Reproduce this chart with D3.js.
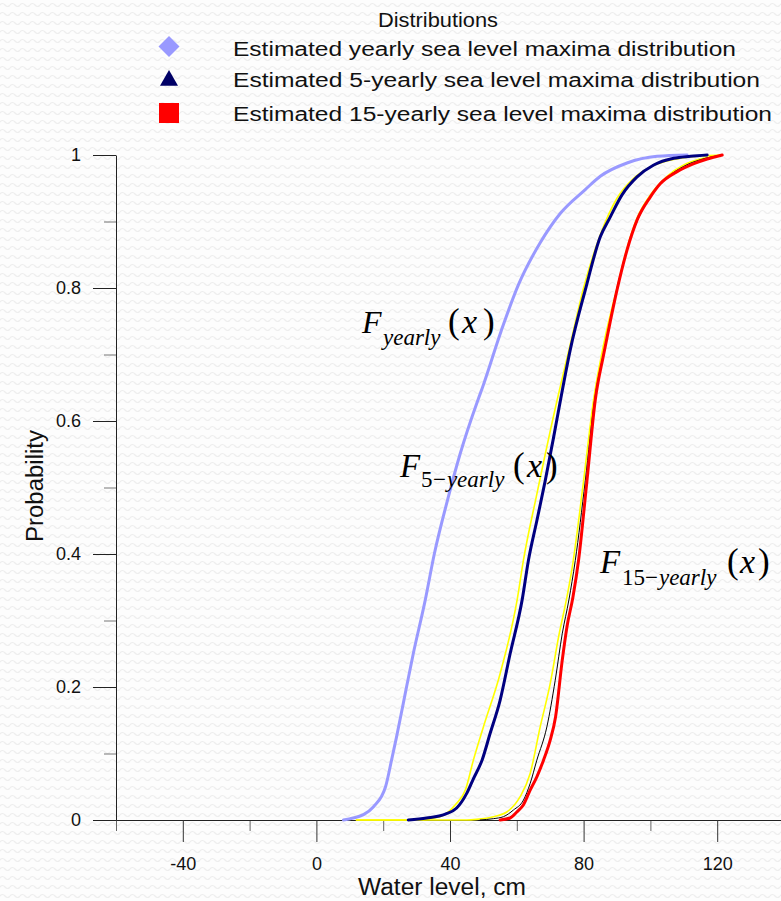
<!DOCTYPE html>
<html>
<head>
<meta charset="utf-8">
<script src="https://cdn.jsdelivr.net/npm/d3@7"></script>
<style>
  html, body { margin: 0; padding: 0; background: #fff; }
  svg { display: block; }
</style>
</head>
<body>
<svg id="chart" width="781" height="901"></svg>
<script>
// ---- Axis ticks and labels ----
const xMajorTicks = [-40, 0, 40, 80, 120];
const xMajorLabels = ["-40", "0", "40", "80", "120"];
const xMinorTicks = [-60, -20, 20, 60, 100, 140];
const yMajorTicks = [0, 0.2, 0.4, 0.6, 0.8, 1];
const yMajorLabels = ["0", "0.2", "0.4", "0.6", "0.8", "1"];
const yMinorTicks = [0.1, 0.3, 0.5, 0.7, 0.9];

// ---- Legend ----
const legendTitle = "Distributions";
const legendNames = [
  "Estimated yearly sea level maxima distribution",
  "Estimated 5-yearly sea level maxima distribution",
  "Estimated 15-yearly sea level maxima distribution"
];

// ---- Empirical distribution of yearly maxima (water level cm, probability) ----
const yearlyLevels = [8.1, 11, 14.1, 17.1, 20.7, 22.5, 24, 26, 29, 32.6, 35.3, 39.2, 43, 48.1, 49.7, 55.3, 60.5, 67, 73, 80.5, 85, 93, 102, 111];
const yearlyProb   = [0, 0.003, 0.008, 0.02, 0.05, 0.09, 0.125, 0.175, 0.25, 0.331, 0.40, 0.48, 0.55, 0.628, 0.65, 0.735, 0.805, 0.868, 0.912, 0.948, 0.968, 0.988, 0.998, 1];

// ---- Empirical distribution of 5-yearly maxima ----
const fiveLevels = [27.5, 33, 38.6, 42, 45, 47, 49.6, 52, 55, 58, 61.6, 63.5, 66, 68.5, 71, 73.1, 76, 80.5, 85, 88, 91.5, 96, 101, 107, 112, 117];
const fiveProb   = [0, 0.003, 0.009, 0.018, 0.04, 0.062, 0.09, 0.13, 0.18, 0.25, 0.331, 0.391, 0.45, 0.51, 0.575, 0.632, 0.707, 0.797, 0.877, 0.907, 0.94, 0.967, 0.985, 0.995, 0.998, 1];

// ---- Fitted 5-yearly distribution ----
const fiveFitLevels = [12, 30, 37, 41.6, 44.6, 47, 50, 55, 60.1, 62, 66, 72.1, 76, 80, 85, 90, 95, 100, 110, 121.5];
const fiveFitProb   = [0, 0, 0.005, 0.023, 0.045, 0.09, 0.14, 0.22, 0.331, 0.391, 0.49, 0.632, 0.715, 0.80, 0.88, 0.935, 0.965, 0.982, 0.996, 1];

// ---- Empirical distribution of 15-yearly maxima ----
const fifteenLevels = [55, 58, 60, 62, 64, 66, 68, 70, 71.6, 73.6, 75, 76.8, 78.5, 81, 83.5, 86, 88, 90, 93, 96, 100, 103, 108, 113, 117, 121.5];
const fifteenProb   = [0, 0.003, 0.012, 0.023, 0.045, 0.065, 0.09, 0.12, 0.155, 0.24, 0.29, 0.335, 0.391, 0.51, 0.632, 0.70, 0.75, 0.797, 0.857, 0.902, 0.937, 0.957, 0.975, 0.987, 0.994, 1];

// ---- Fitted 15-yearly distributions ----
const fifteenFitLevels = [12, 45, 48, 53, 57, 61, 64, 67, 70, 72.5, 75, 76.6, 80, 83, 86, 90, 93, 96, 100, 105, 110, 115, 121.5];
const fifteenFitProb   = [0, 0, 0.001, 0.005, 0.012, 0.035, 0.07, 0.14, 0.205, 0.275, 0.335, 0.38, 0.51, 0.632, 0.715, 0.80, 0.86, 0.905, 0.94, 0.968, 0.985, 0.994, 1];
const fifteenAltLevels = [49, 53, 56, 59, 62, 64, 66, 69, 71.5, 73.6, 75.6, 77.5, 80.5, 83.3, 86.3, 90, 93, 96, 100, 105, 110, 115, 121.5];
const fifteenAltProb   = [0, 0.002, 0.005, 0.015, 0.03, 0.055, 0.09, 0.14, 0.21, 0.28, 0.331, 0.39, 0.51, 0.632, 0.71, 0.80, 0.857, 0.9, 0.937, 0.966, 0.983, 0.993, 1];

// ---- Drawing ----
const W = 781, H = 901;
const SANS = "'Liberation Sans', Arial, Helvetica, sans-serif";
const SERIF = "'Liberation Serif', 'Times New Roman', Times, serif";

const svg = d3.select("#chart");

// faint wavy paper texture behind everything
const defs = svg.append("defs");
const pat = defs.append("pattern")
  .attr("id", "paper")
  .attr("patternUnits", "userSpaceOnUse")
  .attr("width", 10).attr("height", 9);
pat.append("rect").attr("width", 10).attr("height", 9).attr("fill", "#fdfdfd");
pat.append("path")
  .attr("d", "M0,5 Q2.5,2 5,5 T10,5")
  .attr("fill", "none").attr("stroke", "#eeeeee").attr("stroke-width", 1.2);
svg.append("rect").attr("width", W).attr("height", H).attr("fill", "url(#paper)");

const x = d3.scaleLinear().domain([-60, 140]).range([116, 784]);
const y = d3.scaleLinear().domain([0, 1]).range([820, 155]);

// ---- axes ----
function styleAxis(g, color, fontSize) {
  g.selectAll("path.domain").attr("stroke", "#222").attr("stroke-width", 1);
  g.selectAll(".tick line").attr("stroke", color).attr("stroke-width", 1);
  g.selectAll(".tick text")
    .attr("fill", "#111")
    .style("font-family", SANS)
    .style("font-size", fontSize + "px");
}

const xMinor = svg.append("g").attr("transform", `translate(0,${y(0)})`)
  .call(d3.axisBottom(x).tickValues(xMinorTicks).tickSize(11).tickFormat(() => "").tickSizeOuter(0));
xMinor.select("path.domain").remove();
styleAxis(xMinor, "#666", 18);

const yMinor = svg.append("g").attr("transform", `translate(${x(-60)},0)`)
  .call(d3.axisLeft(y).tickValues(yMinorTicks).tickSize(12).tickFormat(() => "").tickSizeOuter(0));
yMinor.select("path.domain").remove();
styleAxis(yMinor, "#777", 18);

const xMajor = svg.append("g").attr("transform", `translate(0,${y(0)})`)
  .call(d3.axisBottom(x).tickValues(xMajorTicks)
    .tickFormat((d, i) => xMajorLabels[i])
    .tickSize(22).tickPadding(15).tickSizeOuter(0));
styleAxis(xMajor, "#333", 18);

const yMajor = svg.append("g").attr("transform", `translate(${x(-60)},0)`)
  .call(d3.axisLeft(y).tickValues(yMajorTicks)
    .tickFormat((d, i) => yMajorLabels[i])
    .tickSize(23).tickPadding(12).tickSizeOuter(0));
styleAxis(yMajor, "#222", 18);

// axis titles
svg.append("text")
  .attr("x", 442).attr("y", 895)
  .attr("text-anchor", "middle")
  .attr("textLength", 168).attr("lengthAdjust", "spacingAndGlyphs")
  .style("font-family", SANS).style("font-size", "23px").attr("fill", "#111")
  .text("Water level, cm");

svg.append("text")
  .attr("transform", "translate(43,486) rotate(-90)")
  .attr("text-anchor", "middle")
  .attr("textLength", 112).attr("lengthAdjust", "spacingAndGlyphs")
  .style("font-family", SANS).style("font-size", "23px").attr("fill", "#111")
  .text("Probability");

// ---- curves ----
const lineSmooth = d3.line().x(d => x(d[0])).y(d => y(d[1])).curve(d3.curveMonotoneX);

const curves = svg.append("g").attr("fill", "none")
  .attr("stroke-linejoin", "round").attr("stroke-linecap", "round");

// fitted distributions underneath
curves.append("path").datum(d3.zip(fiveFitLevels, fiveFitProb))
  .attr("d", lineSmooth).attr("stroke", "#ffff00").attr("stroke-width", 1.6);
curves.append("path").datum(d3.zip(fifteenFitLevels, fifteenFitProb))
  .attr("d", lineSmooth).attr("stroke", "#ffff00").attr("stroke-width", 1.6);
curves.append("path").datum(d3.zip(fifteenAltLevels, fifteenAltProb))
  .attr("d", lineSmooth).attr("stroke", "#000000").attr("stroke-width", 1);

// empirical distributions
curves.append("path").datum(d3.zip(yearlyLevels, yearlyProb))
  .attr("d", lineSmooth).attr("stroke", "#9999ff").attr("stroke-width", 3);
curves.append("path").datum(d3.zip(fiveLevels, fiveProb))
  .attr("d", lineSmooth).attr("stroke", "#000080").attr("stroke-width", 3);
curves.append("path").datum(d3.zip(fifteenLevels, fifteenProb))
  .attr("d", lineSmooth).attr("stroke", "#ff0000").attr("stroke-width", 3);

// ---- curve labels (math style) ----
function mathLabel(level, prob, parts) {
  const x0 = x(level), y0 = y(prob);
  const t = svg.append("text").attr("fill", "#000").style("font-family", SERIF);
  parts.forEach(p => {
    t.append("tspan")
      .attr("x", x0 + p.ox).attr("y", y0 + p.oy)
      .style("font-size", p.size + "px")
      .style("font-style", p.it ? "italic" : "normal")
      .text(p.t);
  });
}

mathLabel(13.65, 0.732, [
  { t: "F", ox: 0, oy: 0, size: 32, it: true },
  { t: "yearly", ox: 21, oy: 12, size: 23, it: true },
  { t: "(", ox: 86, oy: 0, size: 35 },
  { t: "x", ox: 100, oy: 0, size: 34, it: true },
  { t: ")", ox: 121, oy: 0, size: 35 }
]);
mathLabel(25.0, 0.5158, [
  { t: "F", ox: 0, oy: 0, size: 33, it: true },
  { t: "5", ox: 21, oy: 10, size: 23 },
  { t: "\u2212", ox: 33, oy: 10, size: 23 },
  { t: "yearly", ox: 47, oy: 10, size: 23, it: true },
  { t: "(", ox: 113, oy: 0, size: 35 },
  { t: "x", ox: 127, oy: 0, size: 34, it: true },
  { t: ")", ox: 146, oy: 0, size: 35 }
]);
mathLabel(84.9, 0.3714, [
  { t: "F", ox: 0, oy: 0, size: 33, it: true },
  { t: "15", ox: 22, oy: 12, size: 23 },
  { t: "\u2212", ox: 45, oy: 12, size: 23 },
  { t: "yearly", ox: 59, oy: 12, size: 23, it: true },
  { t: "(", ox: 127, oy: 0, size: 35 },
  { t: "x", ox: 140, oy: 0, size: 34, it: true },
  { t: ")", ox: 158, oy: 0, size: 35 }
]);

// ---- legend ----
const legend = svg.append("g");
legend.append("text")
  .attr("x", 438).attr("y", 27).attr("text-anchor", "middle")
  .attr("textLength", 120).attr("lengthAdjust", "spacingAndGlyphs")
  .style("font-family", SANS).style("font-size", "20px").attr("fill", "#111")
  .text(legendTitle);

const legendMarkers = [
  { type: d3.symbolSquare, size: 220, rot: 45, fill: "#9999ff", cy: 46.5 },
  { type: d3.symbolTriangle, size: 140, rot: 0, fill: "#000066", cy: 80.5 },
  { type: d3.symbolSquare, size: 400, rot: 0, fill: "#ff0000", cy: 113 }
];
const legendBaselines = [56, 87, 121];
const legendWidths = [503, 527, 539];

legendNames.forEach((name, i) => {
  const m = legendMarkers[i];
  legend.append("path")
    .attr("d", d3.symbol().type(m.type).size(m.size)())
    .attr("transform", `translate(169,${m.cy}) rotate(${m.rot})`)
    .attr("fill", m.fill);
  legend.append("text")
    .attr("x", 233).attr("y", legendBaselines[i])
    .attr("textLength", legendWidths[i]).attr("lengthAdjust", "spacingAndGlyphs")
    .style("font-family", SANS).style("font-size", "20px").attr("fill", "#111")
    .text(name);
});
</script>
</body>
</html>
